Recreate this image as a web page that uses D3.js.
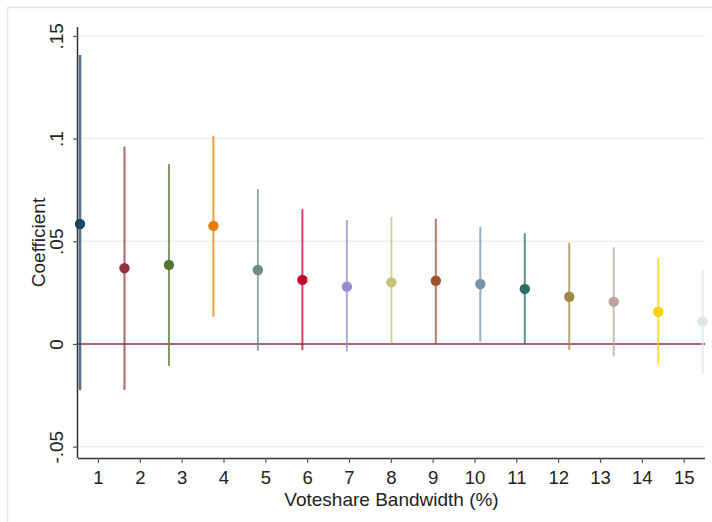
<!DOCTYPE html>
<html>
<head>
<meta charset="utf-8">
<script src="https://cdn.jsdelivr.net/npm/d3@7"></script>
<style>
  body { margin: 0; background: #fff; }
  text { font-family: "Liberation Sans", Arial, sans-serif; fill: #222; }
</style>
</head>
<body>
<div id="chart"></div>
<script>
// bandwidths (%) and estimates
var bandwidths = [1, 2, 3, 4, 5, 6, 7, 8, 9, 10, 11, 12, 13, 14, 15];
var coef   = [0.0584, 0.0369, 0.0385, 0.0575, 0.0360, 0.0312, 0.0279, 0.0300, 0.0308, 0.0292, 0.0268, 0.0230, 0.0206, 0.0157, 0.0109];
var ciLow  = [-0.0224, -0.0224, -0.0107, 0.0133, -0.0033, -0.0030, -0.0037, 0.0003, 0.0000, 0.0011, 0.0003, -0.0029, -0.0058, -0.0102, -0.0143];
var ciHigh = [0.1407, 0.0961, 0.0876, 0.1014, 0.0753, 0.0656, 0.0604, 0.0617, 0.0610, 0.0571, 0.0539, 0.0493, 0.0471, 0.0419, 0.0360];
var yTicks = [-0.05, 0, 0.05, 0.1, 0.15];
var yTickLabels = ["-.05", "0", ".05", ".1", ".15"];

// stata s2color order
var colors = ["#1a476f", "#90353b", "#55752f", "#e37e00", "#6e8e84", "#c10534", "#938dd2",
              "#cac27e", "#a0522d", "#7b92a8", "#2d6d66", "#9c8847", "#bfa19c", "#ffd200", "#d9e6eb"];

var w = 712, h = 522;
var padL = 78, padR = 705, padT = 27, padB = 458;

var svg = d3.select("#chart").append("svg")
    .attr("width", w)
    .attr("height", h);

// outer graph region border (only top/left visible)
svg.append("line").attr("x1", 7).attr("x2", w).attr("y1", 7.5).attr("y2", 7.5)
    .attr("stroke", "#e6e6e6").attr("stroke-width", 1.5);
svg.append("line").attr("x1", 7.5).attr("x2", 7.5).attr("y1", 7).attr("y2", h)
    .attr("stroke", "#e6e6e6").attr("stroke-width", 1.5);

var x = d3.scaleLinear().domain([0.522, 15.51]).range([padL, padR]);
// markers sit on their own grid, slightly off the tick marks
var xPt = d3.scalePoint().domain(bandwidths).range([80, 702.7]);
var y = d3.scaleLinear().domain([-0.0555, 0.1543]).range([padB, padT]);

// gridlines
svg.append("g")
    .selectAll("line")
    .data(yTicks)
    .enter().append("line")
    .attr("x1", padL).attr("x2", padR)
    .attr("y1", function(d) { return y(d); })
    .attr("y2", function(d) { return y(d); })
    .attr("stroke", "#edf0f1")
    .attr("stroke-width", 1.5);

// zero reference line
svg.append("line")
    .attr("x1", padL).attr("x2", padR)
    .attr("y1", y(0)).attr("y2", y(0))
    .attr("stroke", "#8a3347")
    .attr("stroke-width", 1.6);

// confidence intervals
svg.append("g")
    .selectAll("line")
    .data(bandwidths)
    .enter().append("line")
    .attr("x1", function(d) { return xPt(d); })
    .attr("x2", function(d) { return xPt(d); })
    .attr("y1", function(d, i) { return y(ciLow[i]); })
    .attr("y2", function(d, i) { return y(ciHigh[i]); })
    .attr("stroke", function(d, i) { return colors[i]; })
    .attr("stroke-opacity", 0.75)
    .attr("stroke-width", function(d, i) { return i == 0 ? 2.6 : 2; });

// point estimates
svg.append("g")
    .selectAll("circle")
    .data(bandwidths)
    .enter().append("circle")
    .attr("cx", function(d) { return xPt(d); })
    .attr("cy", function(d, i) { return y(coef[i]); })
    .attr("r", 5.2)
    .attr("fill", function(d, i) { return colors[i]; });

// axes
var xAxis = d3.axisBottom(x).tickValues(bandwidths).tickSize(5).tickPadding(8).tickFormat(d3.format("d"));
var gx = svg.append("g")
    .attr("transform", "translate(0," + padB + ")")
    .call(xAxis);
gx.select(".domain").attr("d", "M" + padL + ",0.5H" + padR).attr("stroke", "#333").attr("stroke-width", 1.5);
gx.selectAll(".tick line").attr("stroke", "#555").attr("stroke-width", 1.2);
gx.selectAll(".tick text").attr("font-size", 18.5).attr("fill", "#222")
    .attr("font-family", "Liberation Sans, Arial, sans-serif");

var yAxis = d3.axisLeft(y).tickValues(yTicks).tickSize(5).tickFormat(function(d, i) { return yTickLabels[i]; });
var gy = svg.append("g")
    .attr("transform", "translate(" + padL + ",0)")
    .call(yAxis);
gy.select(".domain").attr("d", "M-0.5," + padT + "V" + padB).attr("stroke", "#333").attr("stroke-width", 1.5);
gy.selectAll(".tick line").attr("stroke", "#555").attr("stroke-width", 1.2);
gy.selectAll(".tick text")
    .attr("font-size", 19)
    .attr("fill", "#222")
    .attr("font-family", "Liberation Sans, Arial, sans-serif")
    .attr("x", null).attr("dy", null)
    .attr("text-anchor", "middle")
    .attr("transform", "translate(-15,0) rotate(-90)");

// axis titles
svg.append("text")
    .attr("x", (padL + padR) / 2)
    .attr("y", 506)
    .attr("text-anchor", "middle")
    .attr("font-size", 19)
    .text("Voteshare Bandwidth (%)");

svg.append("text")
    .attr("transform", "translate(45," + (padT + padB) / 2 + ") rotate(-90)")
    .attr("text-anchor", "middle")
    .attr("font-size", 19)
    .text("Coefficient");
</script>
</body>
</html>
